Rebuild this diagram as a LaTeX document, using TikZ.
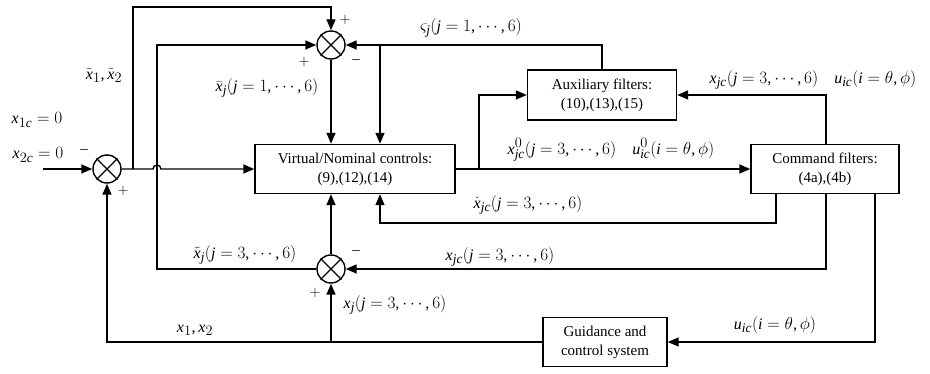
\documentclass[tikz,border=0pt]{standalone}
\usepackage{fontspec}
\setmainfont{Liberation Serif}
\usepackage[italic]{mathastext}
\usetikzlibrary{arrows.meta}
\begin{document}
\begin{tikzpicture}[x=1pt,y=-1pt,
  every node/.style={font=\fontsize{15}{19}\selectfont},
  ln/.style={line width=1.4pt},
  arr/.style={ln,-{Triangle[length=11pt,width=9pt]}},
  blk/.style={draw,line width=1.4pt,align=center,inner sep=0pt},
  sumc/.style={draw,circle,line width=1.4pt,minimum size=28pt,inner sep=0pt},
  lbl/.style={inner sep=0pt,font=\fontsize{16}{19}\selectfont},
  sg/.style={inner sep=0pt,font=\fontsize{15}{16}\selectfont}]
\useasboundingbox (0,0) rectangle (930,374);
% blocks
\node[blk,minimum width=200pt,minimum height=49pt] (vn) at (355,169) {Virtual/Nominal controls:\\(9),(12),(14)};
\node[blk,minimum width=149pt,minimum height=50pt] (aux) at (602,95) {Auxiliary filters:\\(10),(13),(15)};
\node[blk,minimum width=148pt,minimum height=49pt] (cmd) at (825,169) {Command filters:\\(4a),(4b)};
\node[blk,minimum width=124pt,minimum height=49pt] (gd) at (605,342) {Guidance and\\control system};
% summing junctions
\node[sumc] (s1) at (107,169) {};
\node[sumc] (s2) at (331,45) {};
\node[sumc] (s3) at (331,269) {};
\foreach \s in {s1,s2,s3}{
  \draw[ln] (\s.north east) -- (\s.south west) (\s.north west) -- (\s.south east);
}
% coordinates
\coordinate (in) at (43,169);
\coordinate (j1) at (133,169);
\coordinate (c1) at (133,7);
\coordinate (c2) at (331,7);
\coordinate (h1) at (153,169);
\coordinate (c3) at (157,269);
\coordinate (c4) at (157,45);
\coordinate (c5) at (602,45);
\coordinate (j2) at (380,45);
\coordinate (j3) at (479,169);
\coordinate (c6) at (826,95);
\coordinate (d1) at (776,194);
\coordinate (c7) at (776,223);
\coordinate (c8) at (380,223);
\coordinate (d2) at (826,194);
\coordinate (c9) at (826,269);
\coordinate (d3) at (875,194);
\coordinate (c10) at (875,342);
\coordinate (c11) at (107,342);
\coordinate (j4) at (331,342);
% connectors
\draw[arr] (in) -- (s1.west);
\draw[arr] (s1.east) -- (h1) arc (180:360:4) -- (vn.west);
\draw[arr] (j1) -- (c1) -- (c2) -- (s2.north);
\draw[arr] (s3.west) -- (c3) -- (c4) -- (s2.west);
\draw[arr] (aux.north) -- (c5) -- (s2.east);
\draw[arr] (j2) -- (j2 |- vn.north);
\draw[arr] (s2.south) -- (s2.south |- vn.north);
\draw[arr] (vn.east) -- (cmd.west);
\draw[arr] (j3) |- (aux.west);
\draw[arr] (cmd.north -| c6) -- (c6) -- (aux.east);
\draw[arr] (d1) -- (c7) -- (c8) -- (c8 |- vn.south);
\draw[arr] (d2) -- (c9) -- (s3.east);
\draw[arr] (d3) -- (c10) -- (gd.east);
\draw[arr] (gd.west) -- (c11) -- (s1.south);
\draw[arr] (j4) -- (s3.south);
\draw[arr] (s3.north) -- (s3.north |- vn.south);
% labels
\node[lbl] (l1) at (37,120) {$x_{1c}=0$};
\node[lbl] (l2) at (38,155) {$x_{2c}=0$};
\node[lbl] (l3) at (104,75) {$\tilde{x}_1,\tilde{x}_2$};
\node[lbl] (l4) at (267,88) {$\bar{x}_j(j=1,\cdots,6)$};
\node[lbl] (l5) at (471,28) {$\varsigma_j(j=1,\cdots,6)$};
\node[lbl] (l6) at (611,150) {$x^0_{jc}(j=3,\cdots,6)\quad u^0_{ic}(i=\theta,\phi)$};
\node[lbl] (l7) at (813,80) {$x_{jc}(j=3,\cdots,6)\quad u_{ic}(i=\theta,\phi)$};
\node[lbl] (l8) at (528,205) {$\dot{x}_{jc}(j=3,\cdots,6)$};
\node[lbl] (l9) at (245,255) {$\tilde{x}_j(j=3,\cdots,6)$};
\node[lbl] (l10) at (500,257) {$x_{jc}(j=3,\cdots,6)$};
\node[lbl] (l11) at (395,305) {$x_j(j=3,\cdots,6)$};
\node[lbl] (l12) at (195,330) {$x_1,x_2$};
\node[lbl] (l13) at (775,325) {$u_{ic}(i=\theta,\phi)$};
% signs
\node[sg] (g1) at (84,152) {$-$};
\node[sg] (g2) at (123,191) {$+$};
\node[sg] (g3) at (345,20) {$+$};
\node[sg] (g4) at (304,62) {$+$};
\node[sg] (g5) at (356,62) {$-$};
\node[sg] (g6) at (356,253) {$-$};
\node[sg] (g7) at (315,293) {$+$};
\end{tikzpicture}
\end{document}
